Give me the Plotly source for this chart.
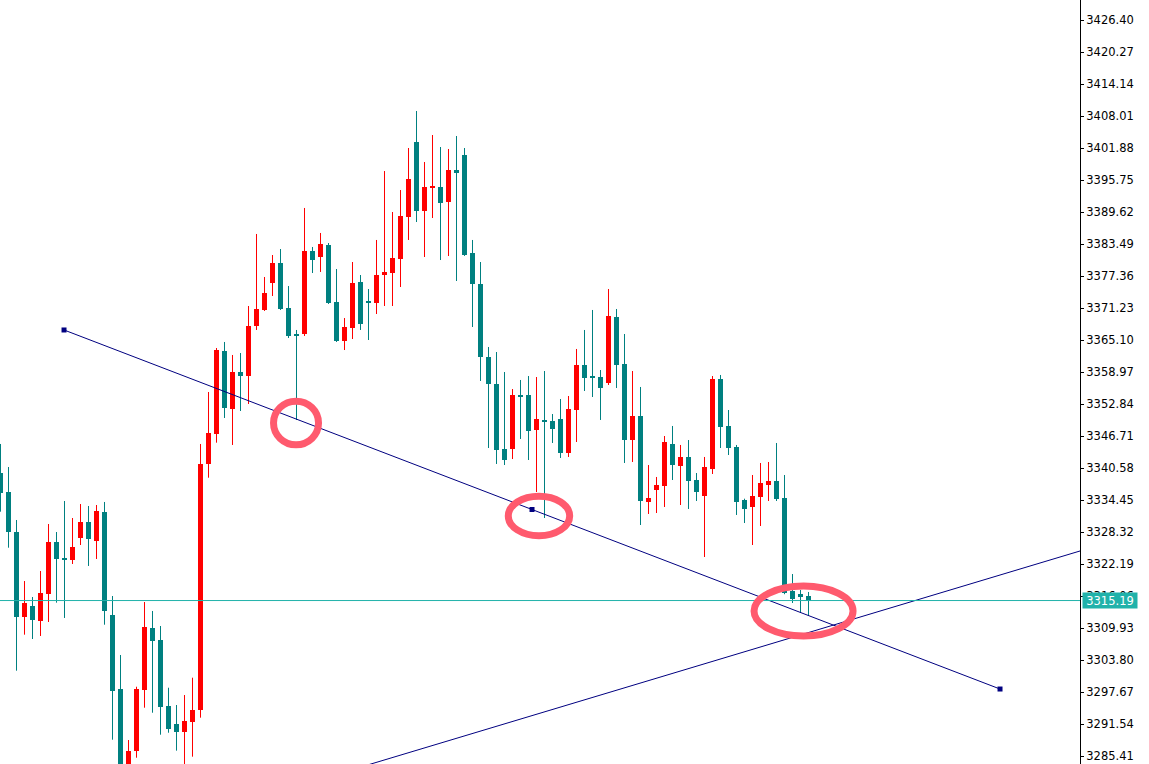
import plotly.graph_objects as go

# ---------------- data ----------------
opens = [3339.68, 3335.98, 3328.32, 3312.09, 3314.14, 3311.27, 3316.50, 3326.40, 3323.34, 3322.96,
         3327.23, 3330.24, 3326.65, 3332.15, 3312.42, 3298.24, 3283.11, 3286.43, 3298.11, 3309.93,
         3307.63, 3294.99, 3291.54, 3290.07, 3291.98, 3294.28, 3341.35, 3347.09, 3362.99, 3351.88,
         3358.97, 3358.20, 3367.78, 3370.85, 3376.02, 3379.85, 3371.23, 3366.25, 3366.25, 3382.15,
         3381.00, 3383.30, 3372.38, 3364.91, 3367.40, 3376.21, 3372.57, 3372.19, 3377.55, 3377.93,
         3380.62, 3388.66, 3403.03, 3389.81, 3394.22, 3394.41, 3391.54, 3397.67, 3400.54, 3381.77,
         3375.83, 3361.84, 3356.67, 3344.22, 3344.22, 3354.56, 3354.56, 3347.86, 3349.78, 3349.58,
         3349.97, 3343.45, 3351.69, 3360.31, 3358.20, 3358.01, 3356.86, 3369.51, 3360.50, 3345.94,
         3350.54, 3334.07, 3336.37, 3337.13, 3345.18, 3340.96, 3342.69, 3338.28, 3335.22, 3340.39,
         3357.63, 3348.63, 3344.60, 3334.45, 3333.11, 3335.02, 3337.32, 3338.09, 3334.83, 3317.02,
         3316.44, 3316.06]
highs = [3345.18, 3340.77, 3330.62, 3318.93, 3315.87, 3320.85, 3329.85, 3328.32, 3334.26, 3331.00,
         3333.68, 3333.30, 3333.49, 3334.07, 3316.06, 3304.76, 3288.47, 3298.68, 3314.91, 3313.19,
         3310.31, 3298.49, 3295.18, 3297.09, 3300.41, 3345.18, 3355.14, 3363.57, 3364.72, 3362.23,
         3362.61, 3371.61, 3385.41, 3377.17, 3381.38, 3382.53, 3375.44, 3367.02, 3390.39, 3382.92,
         3385.60, 3383.68, 3378.70, 3369.31, 3380.04, 3377.55, 3374.87, 3384.26, 3397.47, 3389.62,
         3393.83, 3401.88, 3408.97, 3399.20, 3404.37, 3402.07, 3401.69, 3404.18, 3401.88, 3384.26,
         3380.04, 3363.76, 3362.80, 3358.97, 3355.71, 3357.44, 3358.20, 3358.01, 3359.16, 3350.92,
         3353.80, 3354.37, 3363.38, 3367.02, 3370.85, 3359.35, 3374.87, 3371.04, 3366.25, 3359.16,
         3356.10, 3341.15, 3338.86, 3346.71, 3348.63, 3344.99, 3345.94, 3339.62, 3342.69, 3358.20,
         3358.40, 3351.69, 3344.99, 3334.70, 3339.24, 3341.54, 3341.73, 3345.37, 3339.24, 3320.27,
         3317.21, 3316.83]
lows = [3332.21, 3325.31, 3301.75, 3308.65, 3307.82, 3308.40, 3311.08, 3314.78, 3311.85, 3322.19,
        3325.83, 3321.81, 3323.15, 3310.56, 3288.53, 3281.77, 3282.35, 3285.08, 3294.66, 3293.70,
        3289.49, 3289.87, 3286.43, 3283.30, 3285.28, 3292.75, 3338.72, 3345.43, 3350.16, 3344.99,
        3351.50, 3352.84, 3367.02, 3370.66, 3373.53, 3370.85, 3365.48, 3349.78, 3365.87, 3377.93,
        3378.13, 3372.00, 3364.72, 3363.18, 3365.29, 3367.02, 3365.10, 3370.08, 3371.61, 3371.61,
        3375.25, 3384.26, 3387.70, 3381.00, 3388.47, 3380.42, 3381.19, 3376.40, 3381.20, 3367.59,
        3357.25, 3344.41, 3341.35, 3341.15, 3342.30, 3346.14, 3342.11, 3335.98, 3331.00, 3345.37,
        3342.50, 3342.69, 3345.56, 3355.33, 3354.18, 3349.78, 3356.48, 3355.90, 3341.54, 3341.73,
        3329.66, 3331.77, 3331.96, 3333.11, 3338.28, 3333.49, 3332.73, 3334.26, 3323.53, 3339.43,
        3344.41, 3343.07, 3331.58, 3330.04, 3325.83, 3329.47, 3334.26, 3334.26, 3316.40, 3314.72,
        3312.80, 3312.23]
closes = [3335.85, 3328.38, 3312.09, 3314.72, 3311.46, 3316.63, 3326.40, 3323.20, 3323.01, 3325.45,
          3330.24, 3326.98, 3332.34, 3313.24, 3297.92, 3283.11, 3286.37, 3298.24, 3310.12, 3307.50,
          3294.85, 3290.64, 3290.07, 3292.11, 3294.22, 3341.35, 3347.28, 3363.18, 3352.07, 3358.97,
          3358.20, 3367.78, 3371.04, 3374.10, 3379.85, 3371.04, 3365.87, 3365.87, 3382.15, 3380.42,
          3383.49, 3372.19, 3364.91, 3367.59, 3376.02, 3368.17, 3372.19, 3377.55, 3378.13, 3380.81,
          3388.85, 3395.94, 3389.81, 3394.41, 3394.60, 3391.34, 3397.67, 3397.09, 3381.38, 3375.83,
          3361.84, 3356.67, 3344.03, 3342.11, 3354.56, 3354.18, 3347.67, 3349.97, 3349.39, 3348.05,
          3343.45, 3351.88, 3360.31, 3357.82, 3357.82, 3355.90, 3369.70, 3360.31, 3345.94, 3350.54,
          3334.26, 3334.83, 3337.32, 3345.56, 3341.15, 3342.69, 3338.09, 3335.98, 3340.77, 3357.63,
          3348.43, 3344.41, 3334.07, 3332.73, 3335.22, 3337.71, 3338.09, 3334.64, 3316.63, 3315.48,
          3315.87, 3315.19]

price_ticks = [3285.41, 3291.54, 3297.67, 3303.80, 3309.93, 3316.06, 3322.19, 3328.32, 3334.45,
               3340.58, 3346.71, 3352.84, 3358.97, 3365.10, 3371.23, 3377.36, 3383.49, 3389.62,
               3395.75, 3401.88, 3408.01, 3414.14, 3420.27, 3426.40]
current_price = 3315.19

# trend line anchors (bar index, price)
trend_x = [7.94, 66.44, 124.94]
trend_y = [3367.02, 3332.63, 3298.24]
ray_x = [46.31, 134.94]
ray_y = [3283.88, 3324.68]

# highlight ellipses: (bar index, price)
circle_x = [36.94, 67.31, 100.38]
circle_y = [3349.20, 3331.39, 3313.19]

# ---------------- styling ----------------
UP = "#ff0000"
DOWN = "#008080"
NAVY = "#000080"
PRICE_COL = "#20b2aa"
CIRCLE_COL = "#ff5a6e"
circle_r = [(22.5, 21.8), (30.7, 19.7), (49.5, 25.0)]

n = len(opens)
idx = list(range(n))
up = [c >= o for o, c in zip(opens, closes)]

fig = go.Figure()

# wicks
for flag, col in ((True, UP), (False, DOWN)):
    wx, wy = [], []
    for i in idx:
        if up[i] == flag:
            wx += [i, i, None]
            wy += [lows[i], highs[i], None]
    fig.add_trace(go.Scatter(x=wx, y=wy, mode="lines", line=dict(color=col, width=1),
                             hoverinfo="skip", showlegend=False))

# bodies
base = [min(o, c) for o, c in zip(opens, closes)]
height = [max(abs(c - o), 0.38) for o, c in zip(opens, closes)]
fig.add_trace(go.Bar(x=idx, y=height, base=base, width=0.625,
                     marker=dict(color=[UP if u else DOWN for u in up], line=dict(width=0)),
                     showlegend=False))

# down trend line with handles
fig.add_trace(go.Scatter(x=trend_x, y=trend_y, mode="lines+markers",
                         line=dict(color=NAVY, width=1),
                         marker=dict(symbol="square", size=5, color=NAVY),
                         showlegend=False, hoverinfo="skip", cliponaxis=False))

# rising ray
slope = (ray_y[1] - ray_y[0]) / (ray_x[1] - ray_x[0])
rx = [ray_x[0] - 5, ray_x[1] + 5]
ry = [ray_y[0] - 5 * slope, ray_y[1] + 5 * slope]
fig.add_trace(go.Scatter(x=rx, y=ry, mode="lines", line=dict(color=NAVY, width=1),
                         showlegend=False, hoverinfo="skip"))

# current price line
fig.add_shape(type="line", xref="paper", x0=0, x1=1, yref="y", y0=current_price, y1=current_price,
              line=dict(color=PRICE_COL, width=1))

# highlight circles
for (cx, cy), (rxp, ryp) in zip(zip(circle_x, circle_y), circle_r):
    fig.add_shape(type="circle", xref="x", yref="y", xsizemode="pixel", ysizemode="pixel",
                  xanchor=cx, yanchor=cy, x0=-rxp, x1=rxp, y0=-ryp, y1=ryp,
                  line=dict(color=CIRCLE_COL, width=7), layer="above")

fig.add_annotation(xref="paper", x=1, xanchor="left", xshift=2, yref="y", y=current_price,
                   yanchor="middle", text=f"{current_price:.2f}", showarrow=False,
                   bgcolor=PRICE_COL, font=dict(family="DejaVu Sans", size=11.5, color="white"),
                   borderpad=1, width=52, height=13)

fig.update_layout(
    width=1149, height=764,
    margin=dict(l=0, r=69, t=0, b=0),
    paper_bgcolor="white", plot_bgcolor="white",
    showlegend=False, barmode="overlay", bargap=0,
    xaxis=dict(range=[-0.0625, 134.9375], visible=False, showgrid=False, zeroline=False),
    yaxis=dict(range=[3283.877, 3430.231], side="right", showgrid=False, zeroline=False,
               tickvals=price_ticks, ticktext=[f"{v:.2f}" for v in price_ticks],
               ticks="outside", ticklen=3, tickcolor="black", tickwidth=1,
               showline=True, linecolor="black", linewidth=1,
               tickfont=dict(family="DejaVu Sans", size=11.5, color="black")),
)

fig.write_html("out.html", config={"displayModeBar": False},
               post_script="document.body.style.margin='0px';document.body.style.overflow='hidden';")
